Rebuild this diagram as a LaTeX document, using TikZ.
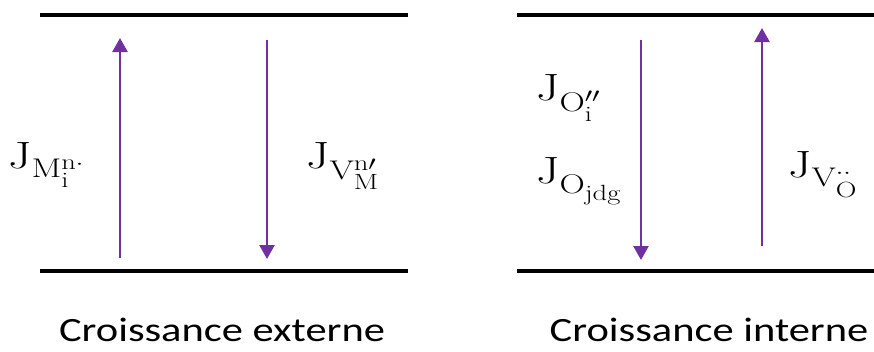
\documentclass[tikz,border=0pt]{standalone}
\usepackage{fontspec}
\setsansfont{Carlito}
\usepackage{amsmath}
\usetikzlibrary{arrows.meta}
\DeclareMathSizes{38}{38}{27}{22}
\definecolor{violetflux}{RGB}{112,48,160}
\tikzset{
  plan/.style={line width=4.5pt},
  fleche/.style={violetflux, line width=2.6pt, -{Triangle[width=15pt,length=14pt]}},
  legende/.style={font=\sffamily\fontsize{34}{38}\selectfont, xscale=1.25},
  etiquette/.style={font=\fontsize{38}{42}\selectfont, xscale=1.3, anchor=base west, inner sep=0pt}
}

\begin{document}
\begin{tikzpicture}[x=1pt,y=-1pt]
    % Fix the frame of the picture
    \useasboundingbox (0,0) rectangle (874,351);

    % Draw the two pairs of planes
    \draw[plan] (40,15) -- (408,15);
    \draw[plan] (40,271) -- (408,271);
    \draw[plan] (517,15) -- (874,15);
    \draw[plan] (517,271) -- (874,271);

    % End points of the arrows
    \coordinate (mbas) at (120,258);
    \coordinate (mhaut) at (120,38);
    \coordinate (vhaut) at (267,40);
    \coordinate (vbas) at (267,259);
    \coordinate (ohaut) at (641,40);
    \coordinate (obas) at (641,260);
    \coordinate (vobas) at (762,246);
    \coordinate (vohaut) at (762,28);

    % Fluxes for the external growth
    \draw[fleche] (mbas) -- (mhaut);
    \draw[fleche] (vhaut) -- (vbas);

    % Fluxes for the internal growth
    \draw[fleche] (ohaut) -- (obas);
    \draw[fleche] (vobas) -- (vohaut);

    % Labels of the fluxes
    \node[etiquette] (jm) at (8,168) {$\mathrm{J}_{\mathrm{M}_{\mathrm{i}}^{\mathrm{n}\cdot}}$};
    \node[etiquette] (jv) at (306,168) {$\mathrm{J}_{\mathrm{V}_{\mathrm{M}}^{\mathrm{n}\prime}}$};
    \node[etiquette] (joi) at (536,100) {$\mathrm{J}_{\mathrm{O}_{\mathrm{i}}^{\prime\prime}}$};
    \node[etiquette] (jojdg) at (536,183) {$\mathrm{J}_{\mathrm{O}_{\mathrm{jdg}}}$};
    \node[etiquette] (jvo) at (788,177) {$\mathrm{J}_{\mathrm{V}_{\mathrm{O}}^{\cdot\cdot}}$};

    % Captions
    \node[legende] (externe) at (222,330) {Croissance externe};
    \node[legende] (interne) at (709,330) {Croissance interne};
\end{tikzpicture}
\end{document}
